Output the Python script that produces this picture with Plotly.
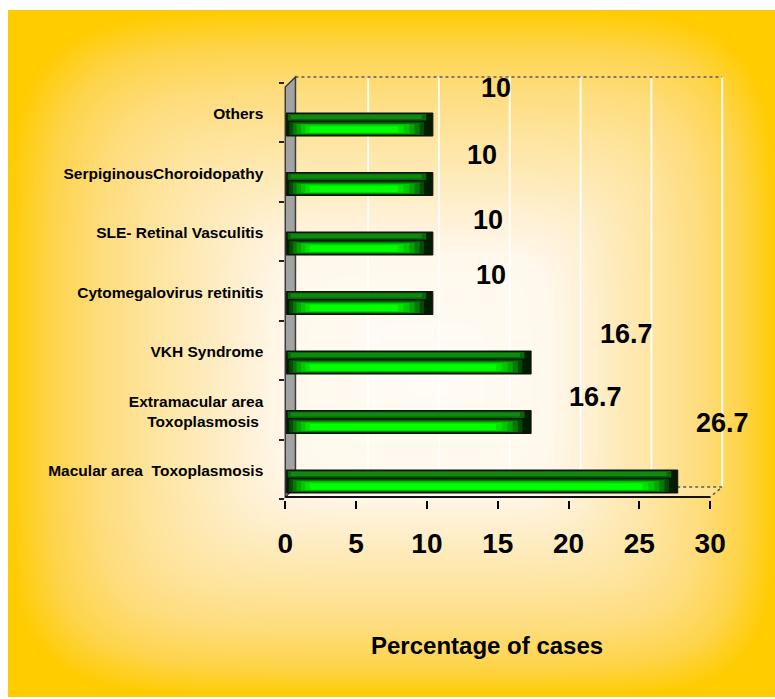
import numpy as np
import plotly.graph_objects as go

# ---------------------------------------------------------------- data
categories = [
    "Macular area  Toxoplasmosis",
    "Extramacular area<br>Toxoplasmosis ",
    "VKH Syndrome",
    "Cytomegalovirus retinitis",
    "SLE- Retinal Vasculitis",
    "SerpiginousChoroidopathy",
    "Others",
]
percentages = [26.7, 16.7, 16.7, 10, 10, 10, 10]
x_ticks = [0, 5, 10, 15, 20, 25, 30]
x_title = "Percentage of cases"

# ---------------------------------------------------------------- geometry (pixels)
W, H = 775, 699
FONT = "Liberation Sans, Arial, Helvetica, sans-serif"


def fx(px):
    return px / W


def fy(py):
    return 1 - py / H


PLOT_L, PLOT_R = 278, 730          # horizontal extent of the chart box
PLOT_T, PLOT_B = 74, 500           # vertical extent of the chart box
X0_FRONT, SCALE_FRONT = 284, 14.2  # front (axis) plane
X0_BARS, SCALE_BARS = 285, 14.7    # plane the 3-D bars sit in
Y0_PX, Y_STEP = 482, 59.5          # pixel row of the first category, row spacing

x2_range = [(PLOT_L - X0_FRONT) / SCALE_FRONT, (PLOT_R - X0_FRONT) / SCALE_FRONT]
x3_range = [(PLOT_L - X0_BARS) / SCALE_BARS, (PLOT_R - X0_BARS) / SCALE_BARS]
y2_range = [(Y0_PX - PLOT_B) / Y_STEP, (Y0_PX - PLOT_T) / Y_STEP]

# 3-D box in front-axis units
FRONT_Y = (Y0_PX - 497) / Y_STEP
BACK_FLOOR_Y = (Y0_PX - 487) / Y_STEP
BACK_TOP_Y = (Y0_PX - 77) / Y_STEP
WALL_FRONT_TOP = (Y0_PX - 87) / Y_STEP
WALL_BACK_X = 0.72
BACK_DX = 0.85

positions = list(range(len(categories)))

fig = go.Figure()

# ---------------------------------------------------------------- background glow
gx = np.linspace(6, W, 120)
gy = np.linspace(10, 697, 110)
GX, GY = np.meshgrid(gx, gy)
cx, cy = 430, 380
hx = np.where(GX < cx, cx - 6, W - cx)
hy = np.where(GY < cy, cy - 10, 697 - cy)
p = 6.0
t = ((np.abs(GX - cx) / hx) ** p + (np.abs(GY - cy) / hy) ** p) ** (1 / p)
t = np.clip(t, 0, 1)
fig.add_trace(go.Heatmap(
    x=gx, y=gy, z=t, zmin=0, zmax=1, zsmooth="best", showscale=False,
    hoverinfo="skip", xaxis="x", yaxis="y",
    colorscale=[[0, "#FFFCF6"], [0.34, "#FFF8EC"], [0.42, "#FFF2DA"], [0.54, "#FEEBBB"],
                [0.66, "#FEE49E"], [0.78, "#FEDD7E"], [0.9, "#FED44A"], [1, "#FFCC00"]],
))

# ---------------------------------------------------------------- 3-D bars
# each layer: (top px, bottom px relative to the bar centre, left inset, right inset, colour)
bar_layers = [
    (-12, 11, 0.0, 0.0, "#021c02"),
    (-11, -4.5, 0.1, 0.45, "#0a640a"),
    (-10, -6, 0.3, 0.75, "#0e8a0e"),
    (-3, 10, 0.2, 0.6, "#044a04"),
    (-2, 9.5, 0.45, 0.9, "#067806"),
    (-1, 9, 0.7, 1.25, "#04a404"),
    (-0.5, 8.5, 1.0, 1.6, "#02c802"),
    (0.5, 8, 1.3, 2.0, "#00e400"),
    (1.5, 7.5, 1.6, 2.4, "#00ff00"),
]
for i, (top, bot, li, ri, col) in enumerate(bar_layers):
    fig.add_trace(go.Bar(
        orientation="h",
        y=positions,
        base=[li] * len(percentages),
        x=[v - li - ri for v in percentages],
        offset=-bot / Y_STEP,
        width=(bot - top) / Y_STEP,
        marker=dict(color=col,
                    line=dict(color="#111111" if i == 0 else col, width=1 if i == 0 else 0)),
        xaxis="x3", yaxis="y2", hoverinfo="skip", showlegend=False,
    ))

# ---------------------------------------------------------------- walls, floor, grid
shapes = []
for tv in x_ticks[1:]:
    shapes.append(dict(type="line", xref="x2", yref="y2", layer="below",
                       x0=tv + BACK_DX, x1=tv + BACK_DX, y0=BACK_FLOOR_Y, y1=BACK_TOP_Y,
                       line=dict(color="rgba(255,255,255,0.9)", width=2)))
# back wall top edge
shapes.append(dict(type="line", xref="x2", yref="y2", layer="below",
                   x0=WALL_BACK_X, x1=x_ticks[-1] + BACK_DX, y0=BACK_TOP_Y, y1=BACK_TOP_Y,
                   line=dict(color="#5a5a5a", width=1.5, dash="dot")))
# floor
shapes.append(dict(type="path", xref="x2", yref="y2", layer="below",
                   path=(f"M0,{FRONT_Y} L{WALL_BACK_X},{BACK_FLOOR_Y} "
                         f"L{x_ticks[-1] + BACK_DX},{BACK_FLOOR_Y} L{x_ticks[-1]},{FRONT_Y} Z"),
                   fillcolor="rgba(255,255,255,0.2)",
                   line=dict(color="#5a5a5a", width=1.5, dash="dot")))
# left wall
shapes.append(dict(type="path", xref="x2", yref="y2", layer="below",
                   path=(f"M0,{FRONT_Y} L0,{WALL_FRONT_TOP} L{WALL_BACK_X},{BACK_TOP_Y} "
                         f"L{WALL_BACK_X},{BACK_FLOOR_Y} Z"),
                   fillcolor="#a3a3a3", line=dict(color="#3c3c3c", width=1.5)))
# front edge of the floor (category axis baseline)
shapes.append(dict(type="line", xref="x2", yref="y2", layer="above",
                   x0=0, x1=x_ticks[-1], y0=FRONT_Y, y1=FRONT_Y,
                   line=dict(color="#111111", width=2)))

# ---------------------------------------------------------------- value labels
label_dx = [4.2, 5.2, 7.4, 4.5, 4.3, 3.9, 4.9]
label_dy = [1.0, 0.43, 0.49, 0.48, 0.40, 0.49, 0.63]
annotations = []
for pos, v, dx, dy in zip(positions, percentages, label_dx, label_dy):
    annotations.append(dict(
        x=v + dx, y=pos + dy, xref="x2", yref="y2", text=f"{v:g}", showarrow=False,
        font=dict(family=FONT, size=27, color="black", weight="bold"),
        xanchor="center", yanchor="middle",
    ))
annotations.append(dict(
    x=fx(486), y=fy(645), xref="paper", yref="paper", text=x_title, showarrow=False,
    font=dict(family=FONT, size=24, color="black", weight="bold"),
    xanchor="center", yanchor="middle",
))

fig.update_layout(
    width=W, height=H,
    margin=dict(l=0, r=0, t=0, b=0),
    paper_bgcolor="white",
    plot_bgcolor="rgba(0,0,0,0)",
    barmode="overlay",
    showlegend=False,
    shapes=shapes,
    annotations=annotations,
    xaxis=dict(domain=[fx(6), 1], range=[6, W], visible=False, fixedrange=True),
    yaxis=dict(domain=[fy(697), fy(10)], range=[697, 10], visible=False, fixedrange=True),
    xaxis2=dict(
        domain=[fx(PLOT_L), fx(PLOT_R)], range=x2_range, anchor="y2",
        tickmode="array", tickvals=x_ticks, ticktext=[str(v) for v in x_ticks],
        ticks="outside", ticklen=8, tickwidth=2, tickcolor="black",
        showgrid=False, zeroline=False, showline=False,
        ticklabelstandoff=10,
        tickfont=dict(family=FONT, size=28, color="black", weight="bold"),
    ),
    xaxis3=dict(overlaying="x2", anchor="y2", range=x3_range, visible=False),
    yaxis2=dict(
        domain=[fy(PLOT_B), fy(PLOT_T)], range=y2_range, anchor="x2",
        tickmode="array", tickvals=positions, ticktext=categories,
        ticks="", showgrid=False, zeroline=False, showline=False,
        ticklabelshift=-11, ticklabelstandoff=15,
        tickfont=dict(family=FONT, size=15.5, color="black", weight="bold"),
        minor=dict(tick0=(Y0_PX - 142) / Y_STEP - 6, dtick=1, ticks="inside",
                   ticklen=5, tickwidth=1.5, tickcolor="#222222", showgrid=False),
    ),
)

fig.write_html("out.html")
